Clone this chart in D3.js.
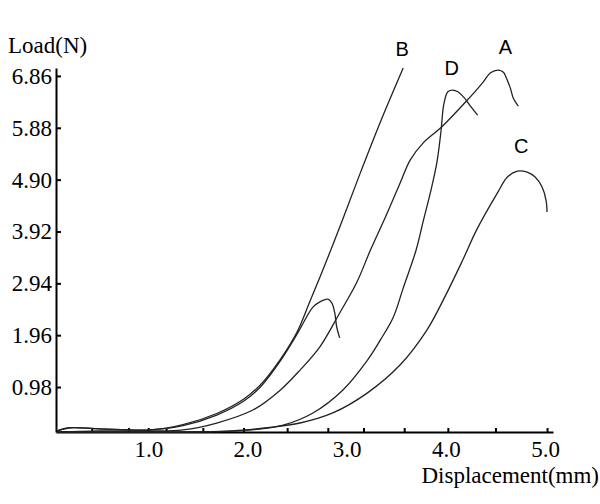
<!DOCTYPE html>
<meta charset="utf-8">
<style>
body { margin: 0; background: #fff; }
.curve { fill: none; stroke: #222; stroke-width: 1.3; stroke-linejoin: round; }
.axis path, .axis line { stroke: #000; stroke-width: 2; }
.name { font-family: "Liberation Sans", Arial, sans-serif; font-size: 20px; fill: #000; text-anchor: middle; }
</style>
<svg width="600" height="504"></svg>
<script src="https://cdn.jsdelivr.net/npm/d3@7"></script>
<script>

// displacement (mm) / load (N)
var aX = [0.08, 0.51, 1.02, 1.35, 1.69, 2.06, 2.33, 2.53, 2.73, 2.93, 3.10, 3.24, 3.39, 3.54, 3.64, 3.77, 3.96, 4.21, 4.37, 4.45, 4.53, 4.58, 4.61, 4.65, 4.68, 4.73];
var aY = [0.13, 0.15, 0.15, 0.17, 0.30, 0.55, 0.92, 1.30, 1.74, 2.38, 2.95, 3.57, 4.19, 4.84, 5.27, 5.59, 5.90, 6.39, 6.73, 6.92, 6.97, 6.93, 6.82, 6.63, 6.44, 6.29];

var bX = [0.08, 0.21, 0.51, 1.02, 1.35, 1.69, 1.96, 2.13, 2.33, 2.50, 2.63, 2.80, 2.95, 3.13, 3.34, 3.57];
var bY = [0.15, 0.21, 0.19, 0.17, 0.27, 0.48, 0.75, 1.02, 1.50, 2.02, 2.60, 3.38, 4.10, 4.99, 5.99, 7.01];

var cX = [0.08, 1.02, 1.85, 2.20, 2.53, 2.86, 3.21, 3.54, 3.81, 4.01, 4.17, 4.31, 4.52, 4.62, 4.72, 4.82, 4.90, 4.97, 5.01, 5.02];
var cY = [0.13, 0.13, 0.15, 0.21, 0.30, 0.49, 0.87, 1.40, 2.06, 2.76, 3.38, 3.95, 4.65, 4.95, 5.06, 5.04, 4.95, 4.76, 4.51, 4.29];

var dX = [0.08, 1.02, 1.52, 2.03, 2.36, 2.66, 2.96, 3.21, 3.34, 3.47, 3.57, 3.70, 3.77, 3.85, 3.91, 3.95, 3.98, 4.02, 4.07, 4.12, 4.18, 4.24, 4.32];
var dY = [0.13, 0.13, 0.13, 0.17, 0.26, 0.49, 0.92, 1.49, 1.87, 2.30, 2.85, 3.57, 4.10, 4.70, 5.23, 5.80, 6.33, 6.56, 6.59, 6.56, 6.46, 6.31, 6.12];

// unlabelled curve that breaks near 2.8 mm
var eX = [0.08, 0.21, 0.51, 1.02, 1.35, 1.69, 1.96, 2.13, 2.33, 2.50, 2.66, 2.73, 2.81, 2.85, 2.88, 2.90, 2.93];
var eY = [0.15, 0.21, 0.19, 0.17, 0.25, 0.45, 0.71, 0.98, 1.47, 1.98, 2.49, 2.59, 2.64, 2.57, 2.38, 2.11, 1.91];

var curveNames = ["A", "B", "C", "D", ""];

var yTicks = [0.98, 1.96, 2.94, 3.92, 4.90, 5.88, 6.86];
var xLabels = [1.0, 2.0, 3.0, 4.0, 5.0];
var xMinorTicks = [0.43, 0.80, 1.0, 1.18, 1.55, 1.96, 2.40, 2.81, 3.17, 3.58, 4.02, 4.50, 5.02];

var serif = "'Liberation Serif', 'Times New Roman', serif";

var svg = d3.select("svg");

var x = d3.scaleLinear()
          .domain([0.07, 5.08])
          .range([56, 553]);

var y = d3.scaleLinear()
          .domain([0.13, 7.01])
          .range([432, 68]);

var series = [[aX, aY], [bX, bY], [cX, cY], [dX, dY], [eX, eY]].map(function(s, i) {
  return {
    name: curveNames[i],
    points: s[0].map(function(v, j) { return [v, s[1][j]]; })
  };
});

// axes
svg.append("g")
    .attr("class", "axis")
    .attr("transform", "translate(" + x.range()[0] + ",0)")
    .call(d3.axisLeft(y)
      .tickValues(yTicks)
      .tickFormat(d3.format(".2f"))
      .tickSizeInner(-5)
      .tickSizeOuter(0)
      .tickPadding(4))
    .attr("font-family", serif)
    .attr("font-size", 23);

svg.append("g")
    .attr("class", "axis")
    .attr("transform", "translate(0," + y.range()[0] + ")")
    .call(d3.axisBottom(x)
      .tickValues(xMinorTicks)
      .tickFormat("")
      .tickSizeInner(-4)
      .tickSizeOuter(0));

svg.append("g")
    .attr("class", "axis")
    .attr("transform", "translate(0," + y.range()[0] + ")")
    .call(d3.axisBottom(x)
      .tickValues(xLabels)
      .tickFormat(d3.format(".1f"))
      .tickSize(0)
      .tickPadding(9))
    .attr("font-family", serif)
    .attr("font-size", 23)
    .select(".domain").remove();

svg.append("text")
    .attr("x", 8)
    .attr("y", 53)
    .attr("font-family", serif)
    .attr("font-size", 23)
    .text("Load(N)");

svg.append("text")
    .attr("x", 599)
    .attr("y", 483)
    .attr("text-anchor", "end")
    .attr("font-family", serif)
    .attr("font-size", 23)
    .text("Displacement(mm)");

// curves
var line = d3.line()
    .x(function(d) { return x(d[0]); })
    .y(function(d) { return y(d[1]); })
    .curve(d3.curveCatmullRom.alpha(0.5));

svg.append("g")
  .selectAll("path")
  .data(series)
  .enter().append("path")
    .attr("class", "curve")
    .attr("d", function(d) { return line(d.points); });

// letter above each curve's highest point
var nudge = { A: [7, -16], B: [-1, -12], C: [4, -18], D: [-1, -15] };

svg.append("g")
  .selectAll("text")
  .data(series.filter(function(d) { return d.name; }))
  .enter().append("text")
    .attr("class", "name")
    .attr("x", function(d) {
      var top = d3.greatest(d.points, function(p) { return p[1]; });
      return x(top[0]) + nudge[d.name][0];
    })
    .attr("y", function(d) {
      var top = d3.greatest(d.points, function(p) { return p[1]; });
      return y(top[1]) + nudge[d.name][1];
    })
    .text(function(d) { return d.name; });

</script>
